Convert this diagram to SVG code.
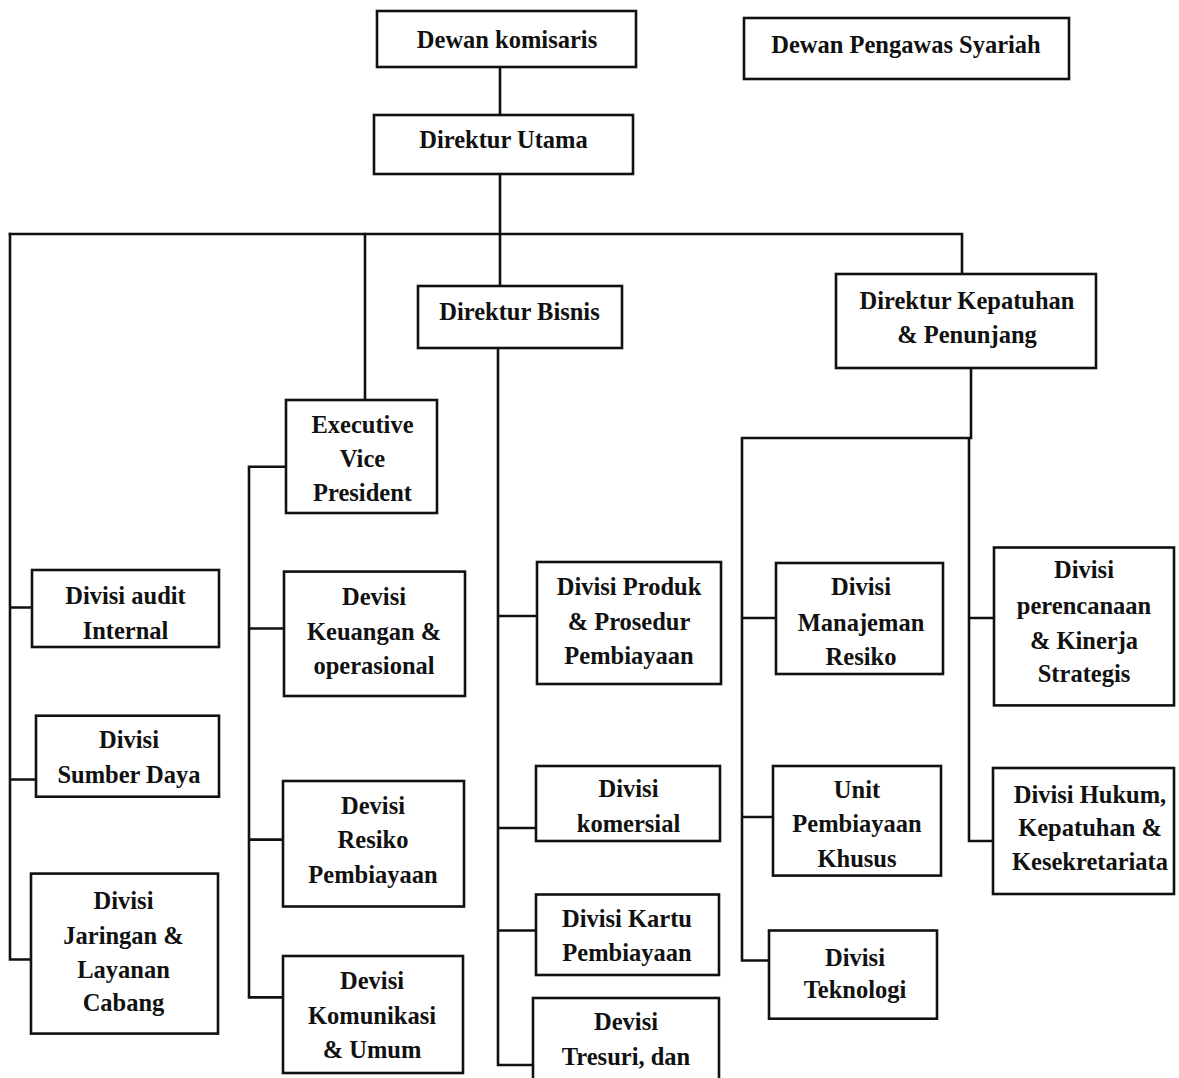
<svg xmlns="http://www.w3.org/2000/svg" width="1179" height="1078" viewBox="0 0 1179 1078">
<style>
.box{fill:#fff;stroke:#111;stroke-width:2.6}
.ln{fill:none;stroke:#111;stroke-width:2.6;stroke-linecap:square}
text{font-family:"Liberation Serif","Times New Roman",serif;font-weight:bold;font-size:24.5px;fill:#111;text-anchor:middle}
</style>
<rect width="1179" height="1078" fill="#fff"/>
<g id="connectors">
<path class="ln" d="M500,67V115M500,174V234M10,234H962V274M500,234V286"/>
<path class="ln" d="M10,234V959.5M10,607.5H32M10,779.5H36M10,959.5H31"/>
<path class="ln" d="M365,234V400M286,466.7H249V997.4M249,628.5H284M249,839.6H283M249,997.4H283"/>
<path class="ln" d="M498,348V1065M498,616H537M498,828H536M498,930.5H536M498,1065H533"/>
<path class="ln" d="M971,368V438H742V960.5M742,618H776M742,817H773M742,960.5H769M969,438V841M969,618H994M969,841H993"/>
</g>
<g id="dewan-komisaris"><rect class="box" x="377" y="11" width="259" height="56"/><text x="507" y="48">Dewan komisaris</text></g>
<g id="dewan-pengawas"><rect class="box" x="744" y="18" width="325" height="61"/><text x="906" y="53">Dewan Pengawas Syariah</text></g>
<g id="direktur-utama"><rect class="box" x="374" y="115" width="259" height="59"/><text x="503.5" y="148">Direktur Utama</text></g>
<g id="direktur-bisnis"><rect class="box" x="418" y="286" width="204" height="62"/><text x="519.5" y="320">Direktur Bisnis</text></g>
<g id="direktur-kepatuhan"><rect class="box" x="836" y="274" width="260" height="94"/><text x="967" y="309">Direktur Kepatuhan</text><text x="967" y="343">&amp; Penunjang</text></g>
<g id="evp"><rect class="box" x="286" y="400" width="151" height="113"/><text x="362.5" y="433">Executive</text><text x="362.5" y="467">Vice</text><text x="362.5" y="501">President</text></g>
<g id="divisi-audit"><rect class="box" x="32" y="570" width="187" height="77"/><text x="125.5" y="603.5">Divisi audit</text><text x="125.5" y="638.5">Internal</text></g>
<g id="divisi-sdm"><rect class="box" x="36" y="715.7" width="183" height="81"/><text x="129" y="748">Divisi</text><text x="129" y="783">Sumber Daya</text></g>
<g id="divisi-jaringan"><rect class="box" x="31" y="873.6" width="187" height="160"/><text x="123.5" y="909">Divisi</text><text x="123.5" y="943.5">Jaringan &amp;</text><text x="123.5" y="978">Layanan</text><text x="123.5" y="1011">Cabang</text></g>
<g id="devisi-keuangan"><rect class="box" x="284" y="571.6" width="181" height="124.4"/><text x="374" y="604.5">Devisi</text><text x="374" y="640">Keuangan &amp;</text><text x="374" y="674">operasional</text></g>
<g id="devisi-resiko"><rect class="box" x="283" y="781" width="181" height="125.5"/><text x="373" y="813.5">Devisi</text><text x="373" y="848">Resiko</text><text x="373" y="883">Pembiayaan</text></g>
<g id="devisi-komunikasi"><rect class="box" x="283" y="956" width="180" height="117"/><text x="372" y="989">Devisi</text><text x="372" y="1024">Komunikasi</text><text x="372" y="1057.5">&amp; Umum</text></g>
<g id="divisi-produk"><rect class="box" x="537" y="562" width="184" height="122"/><text x="629" y="595">Divisi Produk</text><text x="629" y="630">&amp; Prosedur</text><text x="629" y="663.5">Pembiayaan</text></g>
<g id="divisi-komersial"><rect class="box" x="536" y="766" width="184" height="75"/><text x="628.5" y="797">Divisi</text><text x="628.5" y="832">komersial</text></g>
<g id="divisi-kartu"><rect class="box" x="536" y="894.5" width="183" height="80.5"/><text x="627" y="927">Divisi Kartu</text><text x="627" y="961">Pembiayaan</text></g>
<g id="devisi-tresuri"><rect class="box" x="533" y="998" width="186" height="90"/><text x="626" y="1030">Devisi</text><text x="626" y="1065">Tresuri, dan</text></g>
<g id="divisi-manajeman"><rect class="box" x="776" y="563" width="167" height="111"/><text x="861" y="595">Divisi</text><text x="861" y="631">Manajeman</text><text x="861" y="665">Resiko</text></g>
<g id="unit-pembiayaan"><rect class="box" x="773" y="766" width="168" height="109.6"/><text x="857" y="798">Unit</text><text x="857" y="832">Pembiayaan</text><text x="857" y="866.7">Khusus</text></g>
<g id="divisi-teknologi"><rect class="box" x="769" y="930.5" width="168" height="88.2"/><text x="855" y="965.5">Divisi</text><text x="855" y="998">Teknologi</text></g>
<g id="divisi-perencanaan"><rect class="box" x="994" y="547.5" width="180" height="157.9"/><text x="1084" y="578">Divisi</text><text x="1084" y="614">perencanaan</text><text x="1084" y="649">&amp; Kinerja</text><text x="1084" y="682">Strategis</text></g>
<g id="divisi-hukum"><rect class="box" x="993" y="768" width="181" height="126"/><text x="1090" y="802.5">Divisi Hukum,</text><text x="1090" y="836">Kepatuhan &amp;</text><text x="1090" y="870">Kesekretariata</text></g>
</svg>
